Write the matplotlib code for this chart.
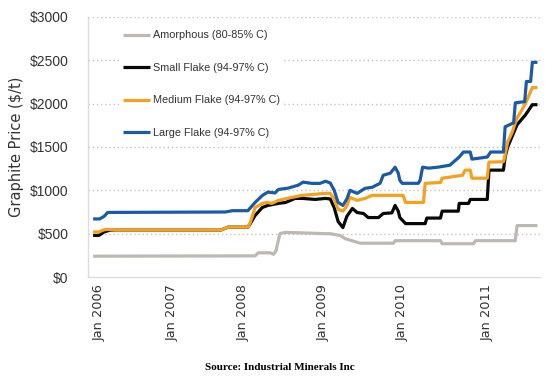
import numpy as np
import matplotlib
matplotlib.use("Agg")
import matplotlib.pyplot as plt
from matplotlib import font_manager as fm

# ---------------- data (decimal years, $/t) ----------------
series_names = ["Amorphous (80-85% C)", "Small Flake (94-97% C)",
                "Medium Flake (94-97% C)", "Large Flake (94-97% C)"]

amorphous_x = [2005.92, 2008.15, 2008.19, 2008.34, 2008.38, 2008.41, 2008.46, 2008.53,
               2009.03, 2009.09, 2009.22, 2009.28, 2009.47, 2009.89, 2009.91, 2010.45,
               2010.47, 2010.84, 2010.86, 2011.33, 2011.35, 2011.59]
amorphous_y = [240, 244, 279, 279, 262, 300, 500, 515,
               500, 500, 477, 442, 390, 390, 419, 419,
               384, 384, 419, 419, 593, 593]

small_x = [2005.92, 2006.00, 2006.07, 2006.15, 2007.68, 2007.79, 2008.06, 2008.09,
           2008.15, 2008.24, 2008.31, 2008.44, 2008.53, 2008.65, 2008.74, 2008.90,
           2009.03, 2009.09, 2009.14, 2009.19, 2009.25, 2009.30, 2009.37, 2009.43,
           2009.51, 2009.57, 2009.70, 2009.76, 2009.87, 2009.91, 2009.95, 2009.97,
           2010.04, 2010.27, 2010.29, 2010.45, 2010.47, 2010.66, 2010.67, 2010.78,
           2010.80, 2011.00, 2011.02, 2011.19, 2011.21, 2011.24, 2011.31, 2011.35,
           2011.45, 2011.53, 2011.59]
small_y = [480, 480, 520, 540, 540, 575, 575, 616,
           709, 802, 826, 849, 860, 907, 907, 895,
           907, 900, 800, 640, 570, 700, 791, 744,
           733, 686, 686, 733, 740, 826, 760, 686,
           616, 616, 680, 680, 760, 760, 849, 849,
           895, 895, 1233, 1233, 1384, 1500, 1663, 1756,
           1872, 1988, 1988]

medium_x = [2005.92, 2006.00, 2006.07, 2006.12, 2006.22, 2007.68, 2007.79, 2008.06,
            2008.09, 2008.15, 2008.24, 2008.30, 2008.36, 2008.44, 2008.61, 2008.74,
            2009.03, 2009.09, 2009.14, 2009.19, 2009.25, 2009.30, 2009.34, 2009.43,
            2009.53, 2009.62, 2010.01, 2010.04, 2010.25, 2010.27, 2010.45, 2010.47,
            2010.71, 2010.74, 2010.80, 2010.82, 2011.00, 2011.02, 2011.19, 2011.21,
            2011.24, 2011.29, 2011.35, 2011.41, 2011.47, 2011.53, 2011.59]
medium_y = [520, 520, 545, 550, 540, 540, 575, 575,
            628, 800, 849, 860, 849, 884, 919, 942,
            965, 965, 900, 780, 760, 820, 919, 884,
            907, 942, 942, 860, 860, 1081, 1090, 1140,
            1174, 1233, 1233, 1140, 1140, 1326, 1330, 1407,
            1558, 1663, 1837, 1930, 2047, 2186, 2186]

large_x = [2005.92, 2006.01, 2006.07, 2006.12, 2007.75, 2007.85, 2008.06, 2008.15,
           2008.24, 2008.31, 2008.40, 2008.44, 2008.56, 2008.69, 2008.75, 2008.86,
           2008.96, 2009.03, 2009.09, 2009.14, 2009.19, 2009.25, 2009.30, 2009.34,
           2009.43, 2009.53, 2009.62, 2009.72, 2009.76, 2009.85, 2009.91, 2009.95,
           2009.97, 2010.00, 2010.19, 2010.21, 2010.24, 2010.31, 2010.42, 2010.56,
           2010.67, 2010.72, 2010.80, 2010.82, 2011.00, 2011.04, 2011.19, 2011.21,
           2011.31, 2011.33, 2011.44, 2011.46, 2011.51, 2011.53, 2011.59]
large_y = [670, 670, 700, 745, 750, 765, 765, 860,
           940, 980, 970, 1010, 1025, 1060, 1095, 1080,
           1080, 1105, 1085, 1000, 860, 826, 900, 1000,
           965, 1023, 1035, 1081, 1174, 1198, 1267, 1200,
           1116, 1081, 1081, 1116, 1267, 1256, 1267, 1290,
           1384, 1442, 1442, 1360, 1384, 1442, 1442, 1733,
           1779, 2010, 2023, 2256, 2256, 2477, 2477]

year_ticks = [2006, 2007, 2008, 2009, 2010, 2011]
year_labels = ["Jan 2006", "Jan 2007", "Jan 2008", "Jan 2009", "Jan 2010", "Jan 2011"]
y_ticks = [0, 500, 1000, 1500, 2000, 2500, 3000]
y_labels = ["$0", "$500", "$1000", "$1500", "$2000", "$2500", "$3000"]

# ---------------- styles ----------------
colors = ["#bdb8b1", "#080808", "#f5a11e", "#1b5ba6"]

def has_font(name):
    try:
        fm.findfont(fm.FontProperties(family=name), fallback_to_default=False)
        return True
    except Exception:
        return False

narrow = "Liberation Sans Narrow" if has_font("Liberation Sans Narrow") else "Liberation Sans"
is_narrow = narrow == "Liberation Sans Narrow"
legend_size = 9.0 if is_narrow else 7.8
legend_spacing = 1.6 if is_narrow else 2.08
legend_handle = 2.2 if is_narrow else 2.5

# uneven year widths on the original category axis
year_widths = [73, 71, 80, 79, 85]
knot_years = [1990] + year_ticks + [2030]
pos = [0.0]
for w in year_widths:
    pos.append(pos[-1] + w)
knot_pos = [-16 * year_widths[0]] + pos + [pos[-1] + 19 * year_widths[-1]]

def fwd(x):
    return np.interp(x, knot_years, knot_pos)

def inv(p):
    return np.interp(p, knot_pos, knot_years)

fig = plt.figure(figsize=(5.45, 3.82), dpi=100)
ax = fig.add_axes([88 / 545, 1 - 277 / 382, (540 - 88) / 545, (277 - 17) / 382])
ax.set_xscale("function", functions=(fwd, inv))

xs = [amorphous_x, small_x, medium_x, large_x]
ys = [amorphous_y, small_y, medium_y, large_y]
for x, y, c, n in zip(xs, ys, colors, series_names):
    ax.plot(x, y, color=c, lw=2.3, label=n, solid_joinstyle="round", solid_capstyle="butt")

ax.set_xlim(2005.85, 2011.62)
ax.set_ylim(0, 3000)
ax.set_yticks(y_ticks)
ax.set_yticklabels(y_labels, family=narrow, fontsize=10, color="#333333")
ax.set_xticks(year_ticks)
ax.set_xticklabels(year_labels, rotation=90, family="DejaVu Sans", fontsize=9.3, color="#333333")
ax.tick_params(axis="both", length=0)
ax.tick_params(axis="y", pad=14)
ax.tick_params(axis="x", pad=5)

for g in y_ticks[1:]:
    ax.axhline(g, color="#c4c4c4", lw=1.0, ls=(0, (1, 2)), zorder=0)

for s in ["top", "right"]:
    ax.spines[s].set_visible(False)
for s in ["left", "bottom"]:
    ax.spines[s].set_color("#dcdcdc")
    ax.spines[s].set_linewidth(1.0)

ax.set_ylabel("Graphite Price ($/t)", family="DejaVu Sans", fontsize=10.5, color="#333333")
ax.yaxis.set_label_coords(-(88 - 24) / 452, 0.5)

leg = ax.legend(loc="upper left", bbox_to_anchor=(119 / 545, 1 - 26 / 382),
                bbox_transform=fig.transFigure, frameon=True, facecolor="white",
                edgecolor="none", framealpha=1.0, borderpad=0.4, borderaxespad=0,
                handlelength=legend_handle, handletextpad=0.2, labelspacing=legend_spacing,
                prop={"family": narrow, "size": legend_size})
for t in leg.get_texts():
    t.set_color("#333333")

fig.text(280 / 545, 1 - 368 / 382, "Source: Industrial Minerals Inc", ha="center", va="center",
         family="Liberation Serif", weight="bold", fontsize=8)

fig.savefig("out.png", dpi=100)
